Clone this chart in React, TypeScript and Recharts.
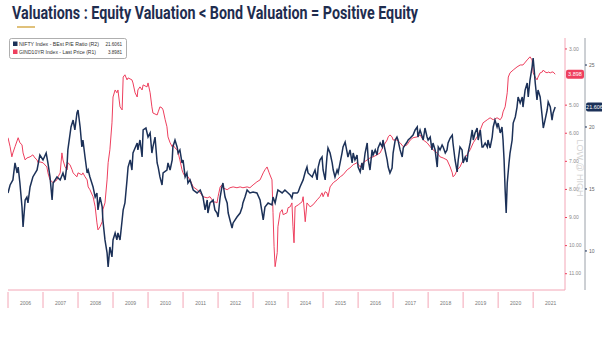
import React from "react"
import { LineChart, Line, XAxis, YAxis, ReferenceLine } from "recharts"

const TITLE = "Valuations : Equity Valuation < Bond Valuation = Positive Equity"
const NIFTY_NAME = "NIFTY Index - BEst P/E Ratio (R2)"
const GIND_NAME = "GIND10YR Index - Last Price (R1)"
const NIFTY_LAST = 21.6061
const GIND_LAST = 3.8981

const years = [2006, 2007, 2008, 2009, 2010, 2011, 2012, 2013, 2014, 2015, 2016, 2017, 2018, 2019, 2020, 2021]
// 4.00 sits under the last-price tag in the original
const yieldTicks = [3, 5, 6, 7, 8, 9, 10, 11]
const peTicks = [10, 15, 20, 25]

// NIFTY 12m fwd P/E (right axis 2)
const niftyDates = [
  2006.00, 2006.06, 2006.14, 2006.20, 2006.26, 2006.29, 2006.34, 2006.40, 2006.43, 2006.49,
  2006.54, 2006.57, 2006.63, 2006.71, 2006.83, 2006.91, 2007.00, 2007.09, 2007.14, 2007.20,
  2007.26, 2007.29, 2007.40, 2007.49, 2007.57, 2007.63, 2007.69, 2007.71, 2007.80, 2007.86,
  2007.91, 2007.97, 2008.00, 2008.06, 2008.11, 2008.14, 2008.20, 2008.26, 2008.29, 2008.34,
  2008.43, 2008.49, 2008.54, 2008.57, 2008.63, 2008.69, 2008.71, 2008.77, 2008.83, 2008.86,
  2008.91, 2008.97, 2009.00, 2009.06, 2009.11, 2009.14, 2009.20, 2009.26, 2009.29, 2009.34,
  2009.40, 2009.43, 2009.49, 2009.54, 2009.57, 2009.69, 2009.71, 2009.77, 2009.83, 2009.86,
  2009.94, 2010.00, 2010.06, 2010.11, 2010.14, 2010.20, 2010.26, 2010.29, 2010.34, 2010.40,
  2010.43, 2010.54, 2010.57, 2010.63, 2010.69, 2010.71, 2010.77, 2010.83, 2010.86, 2010.91,
  2010.97, 2011.00, 2011.06, 2011.11, 2011.14, 2011.20, 2011.29, 2011.40, 2011.49, 2011.57,
  2011.63, 2011.69, 2011.71, 2011.77, 2011.86, 2011.91, 2011.97, 2012.00, 2012.06, 2012.11,
  2012.14, 2012.20, 2012.26, 2012.29, 2012.34, 2012.40, 2012.43, 2012.54, 2012.63, 2012.69,
  2012.71, 2012.77, 2012.83, 2012.91, 2013.00, 2013.11, 2013.20, 2013.26, 2013.29, 2013.34,
  2013.43, 2013.54, 2013.57, 2013.63, 2013.69, 2013.71, 2013.83, 2013.91, 2013.97, 2014.06,
  2014.11, 2014.14, 2014.26, 2014.29, 2014.34, 2014.43, 2014.49, 2014.54, 2014.57, 2014.69,
  2014.71, 2014.77, 2014.83, 2014.86, 2014.91, 2014.97, 2015.00, 2015.06, 2015.11, 2015.14,
  2015.20, 2015.26, 2015.29, 2015.34, 2015.40, 2015.43, 2015.54, 2015.57, 2015.63, 2015.69,
  2015.71, 2015.77, 2015.83, 2015.86, 2015.91, 2015.97, 2016.00, 2016.06, 2016.11, 2016.14,
  2016.20, 2016.26, 2016.29, 2016.34, 2016.40, 2016.43, 2016.49, 2016.54, 2016.57, 2016.63,
  2016.69, 2016.71, 2016.77, 2016.83, 2016.86, 2016.91, 2016.97, 2017.00, 2017.06, 2017.11,
  2017.14, 2017.20, 2017.26, 2017.29, 2017.34, 2017.40, 2017.43, 2017.49, 2017.57, 2017.63,
  2017.69, 2017.71, 2017.77, 2017.86, 2017.91, 2017.97, 2018.00, 2018.06, 2018.11, 2018.14,
  2018.20, 2018.26, 2018.29, 2018.34, 2018.40, 2018.43, 2018.49, 2018.54, 2018.57, 2018.63,
  2018.69, 2018.71, 2018.77, 2018.83, 2018.86, 2018.91, 2018.97, 2019.00, 2019.06, 2019.11,
  2019.14, 2019.20, 2019.26, 2019.29, 2019.34, 2019.40, 2019.43, 2019.49, 2019.54, 2019.57,
  2019.63, 2019.69, 2019.71, 2019.77, 2019.83, 2019.86, 2019.91, 2019.97, 2020.00, 2020.06,
  2020.11, 2020.14, 2020.17, 2020.20, 2020.23, 2020.26, 2020.31, 2020.34, 2020.40, 2020.43,
  2020.49, 2020.54, 2020.57, 2020.63, 2020.69, 2020.71, 2020.77, 2020.83, 2020.86, 2020.91,
  2020.97, 2021.00, 2021.03, 2021.06, 2021.11, 2021.14, 2021.20, 2021.26, 2021.29, 2021.34,
  2021.40, 2021.43, 2021.49, 2021.54, 2021.57, 2021.63,
]
const niftyPE = [
  14.68, 15.32, 15.73, 17.10, 16.29, 16.77, 15.48, 13.55, 11.94, 14.11,
  14.35, 13.87, 15.16, 15.97, 16.53, 17.74, 17.34, 17.90, 17.10, 15.97,
  14.11, 15.48, 15.97, 15.73, 16.29, 15.73, 17.10, 18.15, 20.00, 20.56,
  19.76, 21.13, 21.37, 20.00, 18.39, 18.95, 17.58, 16.29, 16.53, 15.97,
  15.16, 14.35, 14.68, 13.31, 14.35, 13.55, 12.50, 10.89, 9.84, 8.71,
  10.32, 9.52, 10.89, 11.45, 10.89, 11.45, 10.89, 12.50, 13.31, 13.87,
  15.73, 16.77, 17.34, 16.53, 17.90, 18.71, 18.15, 18.95, 17.58, 19.76,
  19.92, 19.19, 19.52, 17.90, 18.39, 19.19, 17.10, 16.77, 15.97, 15.32,
  16.29, 16.53, 17.10, 16.53, 17.34, 18.39, 18.95, 18.39, 17.90, 18.15,
  17.10, 17.34, 15.97, 16.29, 15.48, 15.73, 14.92, 14.68, 14.92, 14.35,
  13.31, 14.11, 13.06, 13.87, 14.11, 13.31, 13.06, 12.74, 14.35, 15.16,
  15.48, 14.35, 13.87, 13.06, 12.50, 11.85, 12.26, 12.74, 13.06, 13.55,
  13.87, 14.35, 14.92, 14.68, 14.76, 14.68, 14.11, 13.06, 12.50, 13.55,
  13.87, 13.71, 14.35, 13.87, 14.68, 14.92, 14.68, 14.92, 14.76, 14.52,
  14.27, 14.68, 14.68, 14.76, 15.16, 15.73, 16.37, 16.77, 16.29, 15.97,
  16.13, 16.53, 15.73, 16.77, 17.34, 17.58, 16.53, 15.73, 17.58, 18.31,
  17.90, 17.10, 16.53, 15.97, 16.53, 16.29, 17.90, 18.39, 18.79, 17.90,
  17.58, 18.15, 17.10, 17.90, 17.34, 17.74, 16.77, 16.37, 17.10, 16.53,
  17.90, 18.71, 17.34, 16.53, 18.15, 17.74, 18.15, 17.74, 18.31, 18.71,
  18.39, 18.95, 18.15, 17.34, 16.77, 16.29, 16.69, 17.90, 18.95, 19.19,
  18.95, 18.15, 17.58, 18.31, 18.55, 18.79, 18.95, 19.11, 19.35, 19.76,
  20.00, 19.19, 19.76, 18.95, 19.92, 19.19, 18.95, 19.19, 18.15, 18.71,
  18.15, 16.77, 18.39, 18.15, 18.55, 18.39, 17.90, 18.15, 18.71, 19.11,
  19.35, 18.71, 17.34, 16.37, 17.34, 18.39, 18.15, 17.10, 17.58, 17.18,
  17.90, 18.71, 19.76, 18.95, 19.52, 19.92, 18.95, 19.76, 18.39, 18.39,
  18.71, 18.39, 18.95, 18.31, 19.19, 20.00, 20.56, 20.00, 20.32, 19.52,
  20.00, 18.95, 17.34, 14.92, 13.06, 15.48, 17.10, 17.90, 18.95, 20.32,
  20.81, 21.61, 22.42, 21.94, 22.42, 21.61, 22.98, 23.55, 22.42, 23.79,
  24.84, 25.56, 24.60, 23.55, 22.18, 22.98, 22.42, 20.81, 19.92, 20.56,
  21.37, 22.02, 21.61, 20.56, 21.13, 21.61,
]

// India 10Y yield (right axis 1, inverted)
const gindDates = [
  2006.00, 2006.06, 2006.11, 2006.14, 2006.20, 2006.29, 2006.34, 2006.40, 2006.43, 2006.49,
  2006.54, 2006.63, 2006.71, 2006.77, 2006.83, 2006.86, 2006.91, 2007.00, 2007.11, 2007.14,
  2007.20, 2007.29, 2007.40, 2007.43, 2007.49, 2007.54, 2007.57, 2007.63, 2007.69, 2007.71,
  2007.77, 2007.83, 2007.86, 2007.91, 2007.97, 2008.00, 2008.11, 2008.14, 2008.20, 2008.26,
  2008.29, 2008.34, 2008.43, 2008.49, 2008.54, 2008.57, 2008.63, 2008.69, 2008.71, 2008.77,
  2008.83, 2008.86, 2008.91, 2008.97, 2009.00, 2009.06, 2009.11, 2009.14, 2009.20, 2009.26,
  2009.29, 2009.34, 2009.40, 2009.43, 2009.54, 2009.57, 2009.63, 2009.69, 2009.71, 2009.77,
  2009.83, 2009.86, 2009.97, 2010.00, 2010.06, 2010.11, 2010.14, 2010.26, 2010.29, 2010.34,
  2010.40, 2010.43, 2010.49, 2010.54, 2010.57, 2010.63, 2010.69, 2010.71, 2010.77, 2010.83,
  2010.86, 2010.91, 2010.97, 2011.00, 2011.06, 2011.11, 2011.14, 2011.20, 2011.29, 2011.40,
  2011.49, 2011.57, 2011.69, 2011.77, 2011.83, 2011.86, 2011.91, 2011.97, 2012.00, 2012.06,
  2012.11, 2012.14, 2012.26, 2012.34, 2012.43, 2012.54, 2012.63, 2012.71, 2012.83, 2012.91,
  2013.00, 2013.11, 2013.20, 2013.29, 2013.34, 2013.40, 2013.46, 2013.54, 2013.57, 2013.60,
  2013.63, 2013.69, 2013.71, 2013.77, 2013.83, 2013.86, 2013.97, 2014.00, 2014.06, 2014.11,
  2014.14, 2014.17, 2014.20, 2014.29, 2014.40, 2014.43, 2014.49, 2014.54, 2014.63, 2014.71,
  2014.83, 2014.91, 2014.97, 2015.00, 2015.06, 2015.11, 2015.14, 2015.20, 2015.29, 2015.40,
  2015.49, 2015.57, 2015.69, 2015.77, 2015.86, 2015.97, 2016.06, 2016.14, 2016.26, 2016.34,
  2016.43, 2016.54, 2016.63, 2016.71, 2016.83, 2016.86, 2016.91, 2016.97, 2017.00, 2017.11,
  2017.20, 2017.29, 2017.40, 2017.49, 2017.57, 2017.69, 2017.77, 2017.86, 2017.97, 2018.06,
  2018.14, 2018.26, 2018.34, 2018.43, 2018.54, 2018.63, 2018.69, 2018.71, 2018.77, 2018.83,
  2018.91, 2019.00, 2019.11, 2019.20, 2019.29, 2019.40, 2019.49, 2019.57, 2019.69, 2019.77,
  2019.86, 2019.97, 2020.06, 2020.11, 2020.14, 2020.20, 2020.26, 2020.29, 2020.34, 2020.43,
  2020.54, 2020.63, 2020.71, 2020.83, 2020.91, 2020.97, 2021.00, 2021.06, 2021.11, 2021.14,
  2021.20, 2021.26, 2021.29, 2021.34, 2021.40, 2021.43, 2021.49, 2021.54, 2021.57, 2021.63,
]
const gindYield = [
  6.16, 6.48, 6.84, 6.70, 6.48, 6.16, 6.34, 6.41, 6.70, 6.95,
  6.88, 6.84, 6.77, 6.88, 6.95, 7.05, 7.02, 7.05, 7.20, 7.41,
  7.66, 7.76, 7.66, 7.55, 7.41, 6.70, 6.95, 7.20, 7.30, 7.05,
  7.12, 7.30, 7.41, 7.48, 7.55, 7.41, 7.48, 7.41, 7.55, 7.66,
  7.91, 8.01, 8.26, 8.62, 9.19, 9.44, 9.33, 9.15, 8.72, 8.48,
  7.66, 7.05, 6.59, 5.63, 4.71, 4.46, 4.56, 4.46, 5.06, 5.17,
  4.00, 3.92, 4.10, 4.03, 4.10, 4.21, 4.56, 4.71, 4.46, 4.35,
  4.46, 4.28, 4.35, 4.21, 4.56, 5.06, 5.28, 5.35, 5.24, 5.06,
  5.10, 5.17, 5.52, 5.77, 6.13, 6.34, 6.48, 6.41, 6.52, 6.59,
  6.70, 6.95, 7.30, 7.41, 7.55, 7.48, 7.55, 7.66, 7.91, 8.01,
  8.12, 8.26, 8.30, 8.26, 8.37, 8.48, 8.44, 8.48, 8.26, 7.91,
  7.84, 7.94, 8.01, 7.94, 7.91, 7.94, 7.91, 7.94, 7.91, 7.94,
  7.84, 7.73, 7.66, 7.41, 7.30, 7.20, 7.41, 7.66, 8.83, 10.04,
  10.75, 10.25, 9.33, 8.83, 8.72, 8.90, 8.83, 8.65, 8.62, 8.48,
  9.33, 9.90, 8.62, 8.55, 8.44, 8.26, 9.15, 8.48, 8.62, 8.55,
  8.37, 8.26, 8.12, 8.26, 8.08, 8.12, 8.26, 7.91, 7.76, 7.66,
  7.55, 7.48, 7.30, 7.23, 7.12, 7.05, 7.20, 7.05, 6.95, 6.88,
  6.84, 6.77, 6.70, 6.48, 6.24, 6.13, 6.06, 6.13, 6.24, 6.24,
  6.34, 6.48, 6.41, 6.24, 6.16, 6.13, 6.06, 6.24, 6.34, 6.48,
  6.59, 6.70, 6.84, 6.88, 6.95, 7.20, 7.41, 7.55, 7.48, 7.30,
  7.20, 6.95, 6.77, 6.59, 6.34, 6.13, 5.88, 5.63, 5.52, 5.45,
  5.52, 5.45, 5.52, 5.42, 5.24, 5.06, 4.56, 4.00, 3.85, 3.75,
  3.64, 3.57, 3.57, 3.39, 3.28, 3.39, 3.85, 4.00, 4.10, 4.00,
  3.85, 3.82, 3.75, 3.82, 3.85, 3.82, 3.85, 3.82, 3.82, 3.90,
]

const niftyData = niftyDates.map((t, i) => ({ t, v: niftyPE[i] }))
const gindData = gindDates.map((t, i) => ({ t, v: gindYield[i] }))

const X_DOMAIN = [2006, 2021.91]
const CHART_W = 602
const MARGIN = { top: 38, right: 0, bottom: 33, left: 8 }
const RIGHT_AXES_W = 20 + 17
const PLOT_W = CHART_W - MARGIN.left - MARGIN.right - RIGHT_AXES_W
const HALF_YEAR = PLOT_W / (X_DOMAIN[1] - X_DOMAIN[0]) / 2

const NAVY = "#1c3158"
const RED = "#ee3f5e"
const PINK = "#f3a6b6"
const SMALL = "'Liberation Sans', Arial, sans-serif"

// year separators at Jan 1st, label centred in the year
const YearTick = (props: any) => {
  const { x, y, payload } = props
  return (
    <g>
      <line x1={x} x2={x} y1={y - 8} y2={y + 8} stroke={PINK} strokeWidth={1} />
      <text x={x + HALF_YEAR} y={y + 5} textAnchor="middle" fontSize={5} fill="#777" fontFamily={SMALL}>
        {payload.value}
      </text>
    </g>
  )
}

const priceTag = (text: string, fill: string, dx: number, w: number) => (props: any) => {
  const vb = props.viewBox
  if (!vb) return null
  const x = vb.x + vb.width + dx
  const y = vb.y
  return (
    <g>
      <rect x={x} y={y - 4.5} width={w} height={9} rx={2} fill={fill} />
      <text x={x + w / 2} y={y + 2} textAnchor="middle" fontSize={5.5} fill="#fff" fontFamily={SMALL}>
        {text}
      </text>
    </g>
  )
}

export default function App() {
  return (
    <div style={{ position: "relative", width: 602, height: 343, background: "#fff", overflow: "hidden" }}>
      <style>{`body{margin:0}`}</style>
      <LineChart width={CHART_W} height={343} margin={MARGIN}>
        <XAxis
          xAxisId="yr"
          type="number"
          dataKey="t"
          domain={X_DOMAIN}
          ticks={years}
          tick={<YearTick />}
          tickLine={false}
          tickSize={8}
          height={20}
          interval={0}
          axisLine={{ stroke: PINK }}
          allowDataOverflow
        />
        <YAxis
          yAxisId="r2"
          orientation="right"
          domain={[6.85, 27.18]}
          ticks={peTicks}
          tick={{ fontSize: 5, fill: "#666", fontFamily: SMALL }}
          tickSize={2}
          tickMargin={2}
          width={17}
          axisLine={{ stroke: "#9aa0a8" }}
          tickLine={{ stroke: NAVY }}
          interval={0}
          allowDataOverflow
        />
        <YAxis
          yAxisId="r1"
          orientation="right"
          reversed
          domain={[2.61, 11.58]}
          ticks={yieldTicks}
          tickFormatter={(v: number) => v.toFixed(2)}
          tick={{ fontSize: 5, fill: "#888", fontFamily: SMALL }}
          tickSize={2}
          tickMargin={2}
          width={20}
          axisLine={{ stroke: PINK }}
          tickLine={{ stroke: RED }}
          interval={0}
          allowDataOverflow
        />
        <Line
          data={gindData}
          dataKey="v"
          xAxisId="yr"
          yAxisId="r1"
          type="linear"
          stroke={RED}
          strokeWidth={1}
          dot={false}
          isAnimationActive={false}
        />
        <Line
          data={niftyData}
          dataKey="v"
          xAxisId="yr"
          yAxisId="r2"
          type="linear"
          stroke={NAVY}
          strokeWidth={1.5}
          dot={false}
          isAnimationActive={false}
        />
        <ReferenceLine
          xAxisId="yr"
          yAxisId="r1"
          y={GIND_LAST}
          stroke="none"
          label={priceTag(GIND_LAST.toFixed(3), RED, 1, 18)}
        />
        <ReferenceLine
          xAxisId="yr"
          yAxisId="r2"
          y={NIFTY_LAST}
          stroke="none"
          label={priceTag(NIFTY_LAST.toFixed(3), NAVY, 21, 17)}
        />
      </LineChart>

      <svg width={602} height={343} style={{ position: "absolute", left: 0, top: 0, pointerEvents: "none" }}>
        <text
          x={12}
          y={19}
          fontSize={18}
          fontWeight={700}
          fill="#1f2d4f"
          fontFamily="'Liberation Sans Narrow', 'Roboto', Arial, sans-serif"
          textLength={406}
          lengthAdjust="spacingAndGlyphs"
        >
          {TITLE}
        </text>
        <line x1={17} x2={35} y1={27} y2={27} stroke="#d8b25a" strokeWidth={1.6} />

        <rect x={9.5} y={38.5} width={117} height={20} rx={2} fill="#fff" stroke="#9a9a9a" strokeWidth={0.8} />
        <rect x={13} y={41.5} width={4.5} height={4.5} fill={NAVY} />
        <text x={19} y={46} fontSize={4.6} fill="#333" fontFamily={SMALL} textLength={80} lengthAdjust="spacingAndGlyphs">
          {NIFTY_NAME}
        </text>
        <text x={122} y={46} fontSize={4.6} fill="#333" fontFamily={SMALL} textAnchor="end">
          {NIFTY_LAST.toFixed(4)}
        </text>
        <rect x={13} y={49.5} width={4.5} height={4.5} fill={RED} />
        <text x={19} y={54} fontSize={4.6} fill="#333" fontFamily={SMALL} textLength={77} lengthAdjust="spacingAndGlyphs">
          {GIND_NAME}
        </text>
        <text x={122} y={54} fontSize={4.6} fill="#333" fontFamily={SMALL} textAnchor="end">
          {GIND_LAST.toFixed(4)}
        </text>

        <text
          x={577}
          y={168}
          fontSize={9}
          fill="#d4d4d4"
          fontFamily={SMALL}
          textAnchor="middle"
          transform="rotate(90 577 168)"
        >
          LOW @ HIGH
        </text>
      </svg>
    </div>
  )
}
